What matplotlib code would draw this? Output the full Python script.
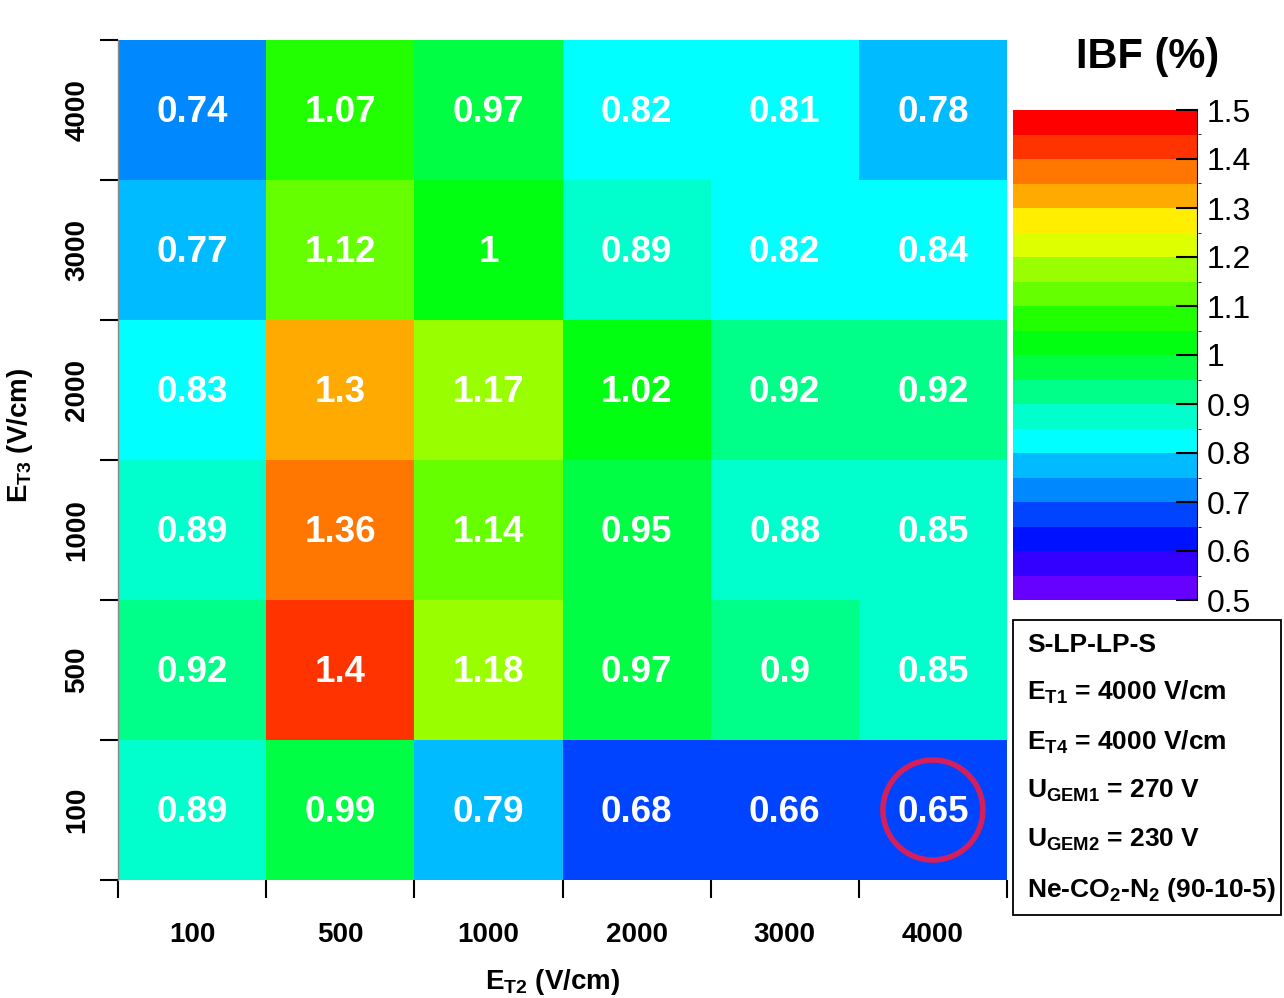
import matplotlib
matplotlib.use("Agg")
import matplotlib.pyplot as plt
import numpy as np
from matplotlib.colors import ListedColormap, BoundaryNorm
from matplotlib.patches import Ellipse, Rectangle

plt.rcParams['font.family'] = ['Liberation Sans', 'DejaVu Sans']
plt.rcParams['mathtext.fontset'] = 'custom'
plt.rcParams['mathtext.rm'] = 'Liberation Sans:bold'
plt.rcParams['mathtext.bf'] = 'Liberation Sans:bold'
plt.rcParams['mathtext.it'] = 'Liberation Sans:bold'

# data
et2_labels = ["100", "500", "1000", "2000", "3000", "4000"]
et3_labels = ["100", "500", "1000", "2000", "3000", "4000"]
# rows: E_T3 from 100 (bottom) to 4000 (top), columns: E_T2
ibf_et3_100 = [0.89, 0.99, 0.79, 0.68, 0.66, 0.65]
ibf_et3_500 = [0.92, 1.4, 1.18, 0.97, 0.9, 0.85]
ibf_et3_1000 = [0.89, 1.36, 1.14, 0.95, 0.88, 0.85]
ibf_et3_2000 = [0.83, 1.3, 1.17, 1.02, 0.92, 0.92]
ibf_et3_3000 = [0.77, 1.12, 1.0, 0.89, 0.82, 0.84]
ibf_et3_4000 = [0.74, 1.07, 0.97, 0.82, 0.81, 0.78]
ibf = np.array([ibf_et3_100, ibf_et3_500, ibf_et3_1000,
                ibf_et3_2000, ibf_et3_3000, ibf_et3_4000])

palette = ["#6600FF", "#3300FF", "#0011FF", "#0044FF", "#0088FF",
           "#00BBFF", "#00FFFF", "#00FFCC", "#00FF88", "#00FF44",
           "#00FF11", "#22FF00", "#66FF00", "#99FF00", "#DDFF00",
           "#FFEE00", "#FFAA00", "#FF7700", "#FF3300", "#FF0000"]
levels = np.arange(50, 151, 5) / 100
cmap = ListedColormap(palette)
norm = BoundaryNorm(levels, cmap.N)

fig = plt.figure(figsize=(12.84, 9.98), dpi=100)
ax = fig.add_axes([118/1284, 118/998, 889/1284, 840/998])

nx, ny = len(et2_labels), len(et3_labels)
mesh = ax.pcolormesh(np.arange(nx + 1), np.arange(ny + 1), ibf,
                     cmap=cmap, norm=norm)
ax.set_xlim(0, nx)
ax.set_ylim(0, ny)

for j in range(ny):
    for i in range(nx):
        ax.text(i + 0.5, j + 0.48, f"{ibf[j, i]:g}", ha='center', va='center',
                color='white', fontsize=26.5, fontweight='bold')

for s in ax.spines.values():
    s.set_visible(False)
ax.spines['left'].set_visible(True)
ax.spines['left'].set_color('#888888')
ax.spines['left'].set_linewidth(1)

ax.set_xticks(np.arange(nx) + 0.5)
ax.set_xticklabels(et2_labels, fontweight='bold', fontsize=20)
ax.set_yticks(np.arange(ny) + 0.5)
ax.set_yticklabels(et3_labels, fontweight='bold', fontsize=20,
                   rotation=90, va='center')
ax.tick_params(axis='both', which='major', length=0)
ax.tick_params(axis='x', which='major', pad=30)
ax.tick_params(axis='y', which='major', pad=20)
ax.set_xticks(np.arange(nx + 1), minor=True)
ax.set_yticks(np.arange(ny + 1), minor=True)
ax.tick_params(axis='both', which='minor', length=13, width=1.5,
               direction='out', color='black')

fig.text(553/1284, 1 - 982/998, r"E$_{\mathregular{T2}}$ (V/cm)",
         ha='center', va='center', fontweight='bold', fontsize=20)
fig.text(20/1284, 1 - 435/998, r"E$_{\mathregular{T3}}$ (V/cm)",
         ha='center', va='center', fontweight='bold', fontsize=20,
         rotation=90)

# highlight
ax.add_patch(Ellipse((5.5, 0.5), 100/148.2, 100/140, fill=False,
                     edgecolor='#D41F5C', linewidth=4))

# colorbar
cax = fig.add_axes([1013/1284, (998-600)/998, 185/1284, 490/998])
cbar = fig.colorbar(mesh, cax=cax, ticks=np.arange(5, 16) / 10)
cbar.outline.set_visible(False)
cbar.ax.set_yticklabels([f"{t:g}" for t in np.arange(5, 16) / 10])
cax.tick_params(axis='y', direction='in', length=16, width=1.5,
                labelsize=23, pad=6)
cax.axvline(1, color='black', lw=1.5)
fig.text(1148/1284, 1 - 57/998, "IBF (%)", ha='center', va='center',
         fontsize=30, fontweight='bold')

# info box
fig.patches.append(Rectangle((1013/1284, (998-915)/998), 268/1284, 295/998,
                             transform=fig.transFigure, fill=False,
                             edgecolor='black', linewidth=1.3))
info = ["S-LP-LP-S",
        r"E$_{\mathregular{T1}}$ = 4000 V/cm",
        r"E$_{\mathregular{T4}}$ = 4000 V/cm",
        r"U$_{\mathregular{GEM1}}$ = 270 V",
        r"U$_{\mathregular{GEM2}}$ = 230 V",
        r"Ne-CO$_{\mathregular{2}}$-N$_{\mathregular{2}}$ (90-10-5)"]
ys = [645, 692, 742, 791, 840, 890]
for s, y in zip(info, ys):
    fig.text(1027/1284, 1 - y/998, s, ha='left', va='center',
             fontsize=19, fontweight='bold')

fig.savefig("out.png", dpi=100)
